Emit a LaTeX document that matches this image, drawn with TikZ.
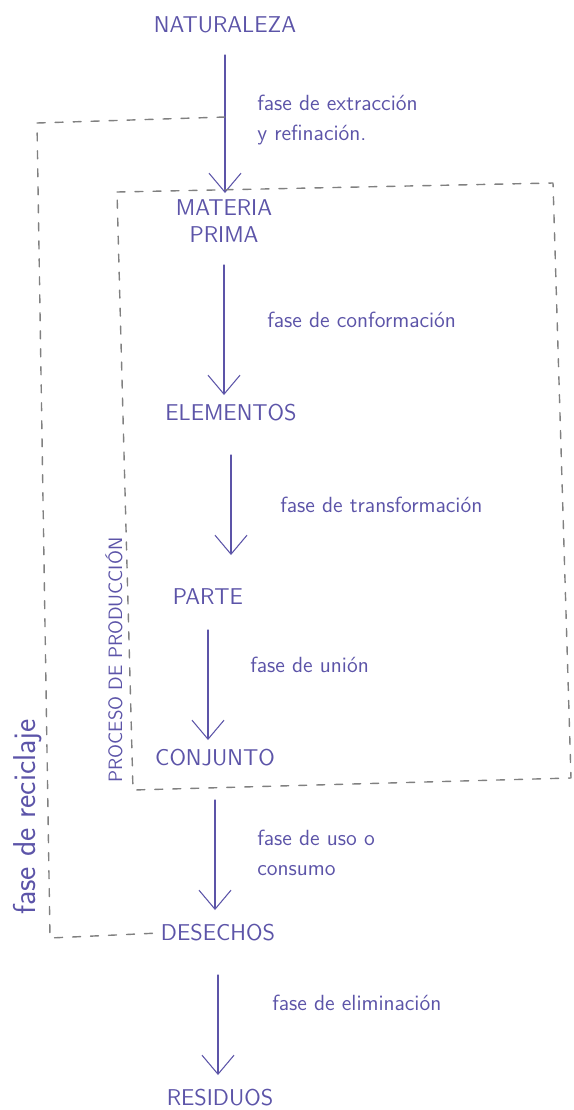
\documentclass[tikz,border=0pt]{standalone}
\usepackage{fontspec}
\usetikzlibrary{arrows.meta}
\definecolor{ink}{RGB}{92,84,168}
\begin{document}
\begin{tikzpicture}[x=0.02cm, y=-0.02cm, line join=round, line cap=round, >={Straight Barb[length=3.8mm,width=6.4mm]}]
	\tikzset{
		etapa/.style={text=ink, font=\sffamily\fontsize{13}{15}\selectfont, align=center, inner sep=1pt},
		fase/.style={text=ink, font=\sffamily\fontsize{12.5}{17}\selectfont, anchor=west, align=left, inner sep=0pt},
		flow/.style={->, ink, semithick},
		limite/.style={black!50, thick, dash pattern=on 0.16cm off 0.2cm}
	}
	\useasboundingbox (0,0) rectangle (574,1110);
	% etapas
	\node[etapa] (nat) at (225,25) {NATURALEZA};
	\node[etapa] (mp) at (224,221) {MATERIA\\PRIMA};
	\node[etapa] (el) at (231,413) {ELEMENTOS};
	\node[etapa] (pa) at (208,597) {PARTE};
	\node[etapa] (co) at (215,758) {CONJUNTO};
	\node[etapa] (de) at (218,933) {DESECHOS};
	\node[etapa] (re) at (220,1098) {RESIDUOS};
	
	\foreach \a/\b/\s/\e in {nat/mp/.6/.56, mp/el/.88/.36, el/pa/.84/.84, pa/co/.66/.36, co/de/.84/.46, de/re/.84/.46}
		\draw[flow, shorten <=\s cm, shorten >=\e cm] (\a.center) -- (\a.center |- \b.center);
	
	% fases
	\node[fase] (f1) at (257,120) {fase de extracción\\y refinación.};
	\node[fase] (f2) at (267,320) {fase de conformación};
	\node[fase] (f3) at (280,505) {fase de transformación};
	\node[fase] (f4) at (250,665) {fase de unión};
	\node[fase] (f5) at (257,853) {fase de uso o\\consumo};
	\node[fase] (f6) at (272,1003) {fase de eliminación};
	
	% limites
	\draw[limite] (117,192) -- (553,183) -- (571,778) -- (133,790) -- cycle;
	\draw[limite] (nat |- 0,117) -- (37,123) -- (50,938) -- (de.west);
	\node[etapa, rotate=90, font=\sffamily\fontsize{11}{13}\selectfont] (pp) at (114,660) {PROCESO DE PRODUCCIÓN};
	\node[fase, rotate=90, anchor=center, font=\sffamily\fontsize{18}{20}\selectfont] (fr) at (28,817) {fase de reciclaje};
\end{tikzpicture}
\end{document}
